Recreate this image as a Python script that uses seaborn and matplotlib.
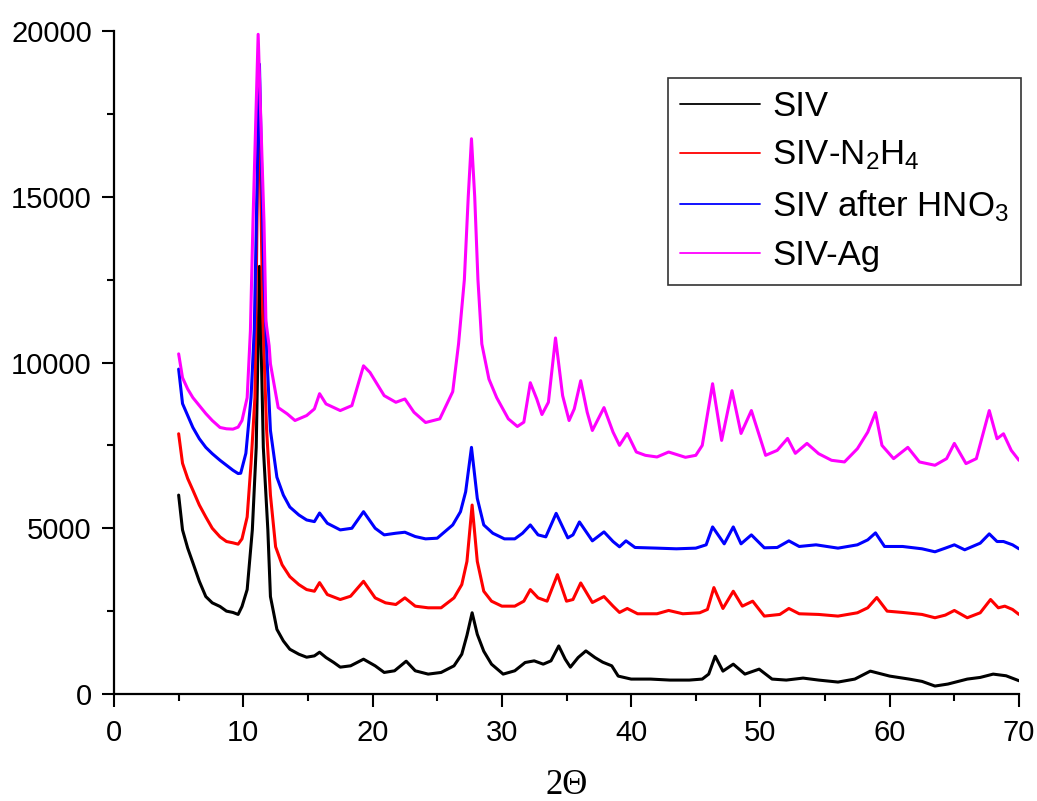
import numpy as np
import pandas as pd
import matplotlib
matplotlib.use("Agg")
import matplotlib.pyplot as plt
from matplotlib.lines import Line2D
from matplotlib.ticker import MultipleLocator
import seaborn as sns

# XRD patterns (2-theta in degrees, intensity in counts)
two_theta_siv = [5.0, 5.3, 5.7, 6.1, 6.6, 7.1, 7.6, 8.2, 8.7, 9.2, 9.6, 9.9, 10.3, 10.7, 11.0,
                 11.25, 11.55, 11.9, 12.1, 12.6, 13.1, 13.6, 14.3, 14.9, 15.5, 15.9, 16.4, 17.0,
                 17.5, 18.3, 19.3, 20.2, 20.9, 21.7, 22.6, 23.3, 24.3, 25.3, 26.3, 26.9, 27.3,
                 27.7, 28.1, 28.6, 29.2, 30.1, 31.0, 31.8, 32.5, 33.2, 33.8, 34.4, 34.9, 35.3,
                 35.9, 36.5, 37.2, 37.8, 38.5, 39.0, 40.0, 41.5, 43.0, 44.5, 45.5, 46.0, 46.5,
                 47.1, 47.9, 48.8, 49.9, 50.9, 52.0, 53.3, 54.5, 56.0, 57.3, 58.5, 60.0, 61.5,
                 62.5, 63.5, 64.5, 66.0, 67.0, 68.0, 69.0, 70.0]
counts_siv = [6000, 4950, 4400, 3960, 3400, 2940, 2750, 2640, 2500, 2460, 2400, 2640, 3150, 4950,
              7440, 12900, 7440, 4950, 2940, 1950, 1600, 1350, 1200, 1110, 1150, 1260, 1100, 950,
              810, 850, 1050, 850, 650, 700, 990, 700, 600, 650, 850, 1200, 1770, 2450, 1800,
              1290, 900, 600, 700, 950, 1000, 900, 1000, 1450, 1050, 810, 1100, 1300, 1100, 960,
              850, 540, 450, 450, 420, 420, 450, 600, 1140, 690, 900, 600, 750, 450, 420, 480,
              420, 360, 450, 690, 540, 450, 380, 240, 300, 450, 500, 600, 550, 400]

two_theta_n2h4 = [5.0, 5.3, 5.7, 6.1, 6.6, 7.1, 7.6, 8.2, 8.7, 9.2, 9.6, 9.9, 10.3, 10.6, 10.9,
                  11.2, 11.5, 11.8, 12.1, 12.5, 13.0, 13.6, 14.3, 14.9, 15.5, 15.9, 16.5, 17.5,
                  18.3, 19.3, 20.2, 21.0, 21.8, 22.5, 23.3, 24.3, 25.3, 26.3, 26.9, 27.3, 27.7,
                  28.1, 28.6, 29.2, 30.0, 31.0, 31.7, 32.2, 32.8, 33.5, 34.3, 35.0, 35.5, 36.1,
                  37.0, 37.9, 38.6, 39.1, 39.7, 40.5, 42.0, 42.9, 44.0, 45.3, 45.9, 46.4, 47.1,
                  47.9, 48.6, 49.4, 50.3, 51.5, 52.2, 53.0, 54.5, 56.0, 57.5, 58.3, 59.0, 59.8,
                  61.0, 62.5, 63.5, 64.3, 65.0, 66.0, 67.0, 67.8, 68.4, 68.9, 69.5, 70.0]
counts_n2h4 = [7850, 6960, 6500, 6150, 5700, 5340, 5000, 4740, 4600, 4560, 4520, 4680, 5340, 6960,
               8940, 18800, 11500, 8000, 6000, 4440, 3900, 3540, 3300, 3150, 3100, 3360, 3000,
               2850, 2950, 3400, 2900, 2750, 2700, 2900, 2650, 2600, 2600, 2900, 3300, 4000, 5700,
               4000, 3100, 2800, 2650, 2650, 2800, 3150, 2900, 2800, 3600, 2800, 2850, 3350, 2760,
               2940, 2650, 2460, 2580, 2420, 2420, 2520, 2420, 2450, 2550, 3210, 2580, 3100, 2650,
               2800, 2350, 2400, 2580, 2420, 2400, 2350, 2450, 2600, 2910, 2500, 2460, 2400, 2300,
               2380, 2520, 2300, 2450, 2850, 2600, 2650, 2550, 2400]

two_theta_hno3 = [5.0, 5.3, 5.7, 6.1, 6.6, 7.1, 7.6, 8.2, 8.7, 9.2, 9.6, 9.8, 10.2, 10.6, 10.85,
                  11.25, 11.6, 11.85, 12.1, 12.6, 13.1, 13.6, 14.3, 14.9, 15.5, 15.9, 16.5, 17.5,
                  18.4, 19.3, 20.2, 20.9, 21.8, 22.5, 23.3, 24.1, 25.0, 26.2, 26.8, 27.2, 27.65,
                  28.1, 28.6, 29.3, 30.2, 31.0, 31.6, 32.2, 32.8, 33.4, 34.2, 35.1, 35.5, 36.0,
                  37.0, 37.9, 38.6, 39.1, 39.6, 40.3, 42.0, 43.5, 45.0, 45.8, 46.3, 47.2, 47.9,
                  48.5, 49.3, 50.3, 51.3, 52.2, 53.0, 54.3, 56.0, 57.5, 58.3, 58.9, 59.6, 61.0,
                  62.5, 63.5, 64.3, 65.0, 65.8, 67.0, 67.7, 68.3, 68.8, 69.5, 70.0]
counts_hno3 = [9800, 8760, 8400, 8040, 7700, 7440, 7250, 7050, 6900, 6750, 6650, 6660, 7260, 8940,
               11000, 19000, 12500, 10000, 7950, 6540, 6000, 5640, 5400, 5250, 5200, 5460, 5150,
               4950, 5000, 5500, 5000, 4800, 4850, 4880, 4750, 4680, 4700, 5100, 5500, 6100, 7440,
               5900, 5100, 4850, 4680, 4680, 4850, 5100, 4800, 4740, 5450, 4710, 4800, 5190, 4620,
               4890, 4600, 4440, 4620, 4420, 4400, 4380, 4400, 4500, 5040, 4530, 5040, 4530, 4800,
               4410, 4420, 4620, 4450, 4500, 4400, 4500, 4650, 4860, 4450, 4450, 4380, 4290, 4400,
               4500, 4350, 4550, 4830, 4600, 4600, 4500, 4380]

two_theta_ag = [5.0, 5.3, 5.7, 6.1, 6.6, 7.1, 7.6, 8.2, 8.7, 9.2, 9.6, 9.9, 10.3, 10.55, 10.75,
                11.15, 11.6, 11.75, 12.0, 12.1, 12.7, 13.4, 14.0, 14.9, 15.5, 15.9, 16.4, 17.5,
                18.4, 19.3, 19.8, 20.9, 21.8, 22.5, 23.2, 24.1, 25.2, 26.2, 26.65, 27.1, 27.4,
                27.65, 27.9, 28.15, 28.45, 29.0, 29.6, 30.5, 31.2, 31.7, 32.2, 32.7, 33.1, 33.6,
                34.15, 34.7, 35.2, 35.6, 36.1, 36.6, 37.0, 37.9, 38.6, 39.1, 39.7, 40.4, 41.1,
                42.0, 42.9, 44.2, 45.0, 45.5, 46.3, 47.0, 47.8, 48.5, 49.3, 50.4, 51.3, 52.1,
                52.7, 53.6, 54.5, 55.5, 56.5, 57.5, 58.3, 58.9, 59.4, 60.3, 61.4, 62.3, 63.5,
                64.4, 65.0, 65.9, 66.7, 67.7, 68.3, 68.8, 69.4, 70.0]
counts_ag = [10260, 9540, 9200, 8940, 8700, 8460, 8250, 8040, 8000, 7990, 8050, 8250, 8940, 10950,
             14250, 19900, 14250, 11250, 10500, 9960, 8640, 8450, 8250, 8400, 8600, 9060, 8750,
             8550, 8700, 9900, 9700, 9000, 8800, 8900, 8500, 8190, 8300, 9120, 10560, 12500,
             15000, 16750, 15000, 12500, 10560, 9500, 8940, 8300, 8070, 8200, 9390, 8900, 8430,
             8800, 10740, 9000, 8250, 8600, 9450, 8500, 7950, 8640, 7900, 7500, 7860, 7300, 7200,
             7150, 7300, 7140, 7200, 7500, 9360, 7650, 9150, 7860, 8550, 7200, 7350, 7710, 7260,
             7560, 7250, 7050, 7000, 7400, 7900, 8490, 7500, 7100, 7440, 7000, 6900, 7100, 7560,
             6950, 7100, 8550, 7700, 7850, 7350, 7050]

sample_names = ["SIV", "SIV-N$_2$H$_4$", "SIV after HNO$_3$", "SIV-Ag"]
sample_colors = ["#000000", "#ff0000", "#0000ff", "#ff00ff"]

series = [(two_theta_siv, counts_siv), (two_theta_n2h4, counts_n2h4),
          (two_theta_hno3, counts_hno3), (two_theta_ag, counts_ag)]
frames = []
for name, (tt, cc) in zip(sample_names, series):
    frames.append(pd.DataFrame({"two_theta": tt, "counts": cc, "sample": name}))
data = pd.concat(frames, ignore_index=True)

sns.set_theme(style="ticks")
plt.rcParams["font.family"] = ["Liberation Sans", "DejaVu Sans"]
plt.rcParams["mathtext.fontset"] = "custom"
plt.rcParams["mathtext.rm"] = "Liberation Sans"
plt.rcParams["mathtext.it"] = "Liberation Sans:italic"
plt.rcParams["text.color"] = "black"

fig = plt.figure(figsize=(10.37, 8.01), dpi=100)
ax = fig.add_axes([114 / 1037, 1 - 694 / 801, (1019 - 114) / 1037, (694 - 31) / 801])

sns.lineplot(data=data, x="two_theta", y="counts", hue="sample", hue_order=sample_names,
             palette=sample_colors, estimator=None, sort=False, linewidth=2.2, ax=ax,
             legend=False)

ax.set_xlim(0, 70)
ax.set_ylim(0, 20000)
ax.xaxis.set_major_locator(MultipleLocator(10))
ax.xaxis.set_minor_locator(MultipleLocator(5))
ax.yaxis.set_major_locator(MultipleLocator(5000))
ax.yaxis.set_minor_locator(MultipleLocator(2500))

for side in ("top", "right"):
    ax.spines[side].set_visible(False)
for side in ("left", "bottom"):
    ax.spines[side].set_linewidth(1.6)
    ax.spines[side].set_color("black")

ax.tick_params(axis="both", which="major", direction="out", length=9, width=1.5,
               labelsize=21, colors="black")
ax.tick_params(axis="x", which="major", pad=9)
ax.tick_params(axis="y", which="major", pad=7)
ax.tick_params(axis="both", which="minor", direction="out", length=5, width=1.5,
               colors="black")

ax.set_xlabel("2\u0398", fontsize=25, family="Liberation Serif", labelpad=16, color="black")
ax.set_ylabel("")

handles = [Line2D([0], [0], color=c, lw=1.3) for c in sample_colors]
leg = ax.legend(handles, sample_names, loc="upper right",
                bbox_to_anchor=(1021 / 1037, 1 - 78 / 801), bbox_transform=fig.transFigure,
                borderaxespad=0, fontsize=25, frameon=True, fancybox=False, framealpha=1,
                edgecolor="#333333", handlelength=2.3, handletextpad=0.35,
                labelspacing=0.45, borderpad=0.35)
leg.get_frame().set_linewidth(1.2)

fig.savefig("out.png", dpi=100, facecolor="white")
